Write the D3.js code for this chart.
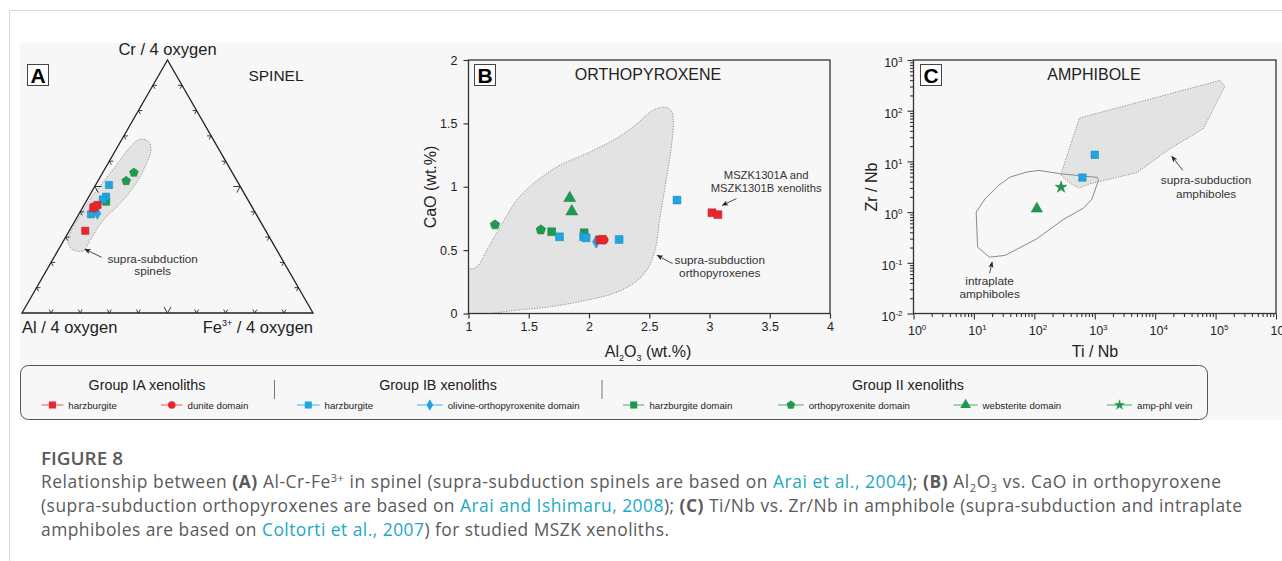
<!DOCTYPE html>
<html><head><meta charset="utf-8">
<script src="https://cdn.jsdelivr.net/npm/d3@7"></script>
<style>body{margin:0;background:#fff;overflow:hidden}svg{display:block}</style>
</head><body>
<svg id="c" width="1282" height="561"></svg>
<script>
// ---------------- DATA ----------------
// Panel A: spinel compositions [Al, Cr, Fe3+] (fractions, 4 oxygen basis)
const spinel_IA_harz  = [[0.62,0.325,0.055],[0.542,0.42,0.038],[0.527,0.427,0.046],[0.549,0.414,0.037]];
const spinel_IA_dun   = [[0.533,0.423,0.044]];
const spinel_IB_harz  = [[0.448,0.506,0.046],[0.481,0.46,0.059],[0.498,0.449,0.053],[0.568,0.39,0.042]];
const spinel_IB_olopx = [[0.544,0.394,0.062]];
const spinel_II_harz  = [[0.491,0.44,0.069]];
const spinel_II_opx   = [[0.338,0.555,0.107],[0.381,0.522,0.097]];
// supra-subduction spinel field [Cr, Fe3+]
const spinelField = [[0.273,0.023],[0.249,0.052],[0.246,0.088],[0.289,0.090],[0.368,0.096],[0.434,0.121],[0.499,0.134],[0.565,0.135],[0.644,0.121],[0.677,0.097],[0.687,0.063],[0.657,0.044],[0.605,0.035],[0.552,0.027],[0.486,0.014],[0.407,0.008],[0.341,0.007],[0.302,0.009]];
const ternaryTicks = [0.1,0.2,0.3,0.4,0.5,0.6,0.7,0.8,0.9];

// Panel B: orthopyroxene [Al2O3 wt%, CaO wt%]
const opx_IA_harz  = [[2.09,0.58],[2.11,0.585],[3.02,0.795],[3.07,0.78]];
const opx_IA_dun   = [[2.125,0.58]];
const opx_IB_harz  = [[1.755,0.605],[1.955,0.605],[1.976,0.597],[2.25,0.584],[2.73,0.895]];
const opx_IB_olopx = [[2.06,0.566]];
const opx_II_harz  = [[1.69,0.645],[1.96,0.637]];
const opx_II_opx   = [[1.22,0.70],[1.60,0.66]];
const opx_II_web   = [[1.84,0.91],[1.857,0.805]];
const opxField = [[0.97,0.33],[1.069,0.368],[1.152,0.5],[1.263,0.684],[1.401,0.895],[1.539,1.026],[1.65,1.105],[1.76,1.171],[1.982,1.263],[2.203,1.368],[2.369,1.474],[2.535,1.605],[2.645,1.626],[2.687,1.592],[2.70,1.50],[2.687,1.342],[2.645,1.079],[2.59,0.763],[2.548,0.5],[2.479,0.342],[2.369,0.237],[2.203,0.158],[1.982,0.105],[1.677,0.053],[1.401,0.026],[1.15,-0.005],[0.97,-0.03]];
const opxXTicks = [1,1.5,2,2.5,3,3.5,4];
const opxYTicks = [0,0.5,1,1.5,2];

// Panel C: amphibole [Ti/Nb, Zr/Nb]
const amph_IB_harz = [[1000,13.5],[625,4.8]];
const amph_II_web  = [[110,1.16]];
const amph_II_amp  = [[277,3.1]];
const amphSupraField = [[274,5.46],[557,71.7],[118500,397],[143300,307],[62800,44.2],[17630,17.8],[4950,5.98],[837,3.62],[537,2.98],[367,3.91]];
const amphIntraField = [[10.9,1.0],[11.5,0.204],[18.1,0.129],[32.8,0.14],[110,0.298],[303,0.717],[650,1.2],[892,1.78],[1150,4.22],[1107,4.83],[274,5.71],[117,6.64],[75,6.16],[39.7,4.91],[25.5,3.36],[15.3,1.83]];
const amphXExp = [0,1,2,3,4,5,6];
const amphYExp = [-2,-1,0,1,2,3];

// Legend
const legendGroups = ["Group IA xenoliths","Group IB xenoliths","Group II xenoliths"];
const legendLabels = ["harzburgite","dunite domain","harzburgite","olivine-orthopyroxenite domain","harzburgite domain","orthopyroxenite domain","websterite domain","amp-phl vein"];

// ---------------- STYLE ----------------
const FONT = "'Liberation Sans', Arial, Helvetica, sans-serif";
const RED="#e8272d", BLUE="#1fa6e1", GREEN="#1e9a50";
const LRED="#f29a9c", LBLUE="#8ed2f2", LGREEN="#8fcea4";

const pentagon = {draw(ctx,size){const r=Math.sqrt(size/2.3776);for(let i=0;i<5;i++){const a=-Math.PI/2+i*2*Math.PI/5;const px=r*Math.cos(a),py=r*Math.sin(a);i?ctx.lineTo(px,py):ctx.moveTo(px,py);}ctx.closePath();}};
const SHAPES = {square:d3.symbolSquare,circle:d3.symbolCircle,diamond:d3.symbolDiamond,triangle:d3.symbolTriangle,star:d3.symbolStar,pentagon:pentagon};
const SIZES = {square:62,circle:55,diamond:48,triangle:62,star:48,pentagon:60};

const series = [
 {shape:"square",  color:RED,  light:LRED,  A:spinel_IA_harz, B:opx_IA_harz, C:[]},
 {shape:"circle",  color:RED,  light:LRED,  A:spinel_IA_dun,  B:opx_IA_dun,  C:[]},
 {shape:"square",  color:BLUE, light:LBLUE, A:spinel_IB_harz, B:opx_IB_harz, C:amph_IB_harz},
 {shape:"diamond", color:BLUE, light:LBLUE, A:spinel_IB_olopx,B:opx_IB_olopx,C:[]},
 {shape:"square",  color:GREEN,light:LGREEN,A:spinel_II_harz, B:opx_II_harz, C:[]},
 {shape:"pentagon",color:GREEN,light:LGREEN,A:spinel_II_opx,  B:opx_II_opx,  C:[]},
 {shape:"triangle",color:GREEN,light:LGREEN,A:[],             B:opx_II_web,  C:amph_II_web},
 {shape:"star",    color:GREEN,light:LGREEN,A:[],             B:[],          C:amph_II_amp}
];
const drawOrder = [4,5,6,7,2,3,0,1];

const svg = d3.select("#c").style("font-family",FONT);
const defs = svg.append("defs");
defs.append("marker").attr("id","arr").attr("viewBox","0 0 8 8").attr("refX",7).attr("refY",4)
  .attr("markerWidth",7).attr("markerHeight",7).attr("orient","auto-start-reverse")
  .append("path").attr("d","M0,0.8 L8,4 L0,7.2 L2,4 Z").attr("fill","#222");

// page chrome
svg.append("line").attr("x1",9.5).attr("y1",10.5).attr("x2",1282).attr("y2",10.5).attr("stroke","#d6d6d6");
svg.append("line").attr("x1",9.5).attr("y1",10.5).attr("x2",9.5).attr("y2",561).attr("stroke","#d6d6d6");
svg.append("rect").attr("x",20).attr("y",43).attr("width",1262).attr("height",377).attr("fill","#f7f7f7");

function sym(shape,size){return d3.symbol().type(SHAPES[shape]).size(size||SIZES[shape])();}
function drawPoints(g, key, fx, fy, scale){
  drawOrder.forEach(i=>{
    const s=series[i];
    g.selectAll(null).data(s[key]).join("path")
      .attr("d",sym(s.shape,SIZES[s.shape]*(scale||1)))
      .attr("transform",d=>`translate(${fx(d)},${fy(d)})`)
      .attr("fill",s.color).attr("stroke",d3.color(s.color).darker(0.6)).attr("stroke-width",0.5);
  });
}
function letterBox(x,y,L){
  svg.append("rect").attr("x",x+0.5).attr("y",y+0.5).attr("width",21).attr("height",21).attr("fill","#fff").attr("stroke","#444").attr("stroke-width",1);
  svg.append("text").attr("x",x+11).attr("y",y+19).attr("text-anchor","middle").attr("font-weight","bold").attr("font-size",21).attr("fill","#000").text(L);
}
function label(x,y,t,size,anchor){return svg.append("text").attr("x",x).attr("y",y).attr("font-size",size).attr("text-anchor",anchor||"middle").attr("fill","#222").text(t);}
function arrow(x1,y1,x2,y2){svg.append("line").attr("x1",x1).attr("y1",y1).attr("x2",x2).attr("y2",y2).attr("stroke","#333").attr("stroke-width",0.9).attr("marker-end","url(#arr)");}

// ================= PANEL A =================
const tu = d3.scaleLinear().domain([0,1]).range([22,313]);   // horizontal (Fe + Cr/2)
const tv = d3.scaleLinear().domain([0,1]).range([313,60]);   // Cr
const tx = (cr,fe)=>tu(fe+cr/2), ty=(cr)=>tv(cr);
const gA = svg.append("g");
gA.append("path").datum(spinelField)
  .attr("d",d3.line().x(d=>tx(d[0],d[1])).y(d=>ty(d[0])).curve(d3.curveCatmullRomClosed.alpha(0.5)))
  .attr("fill","#e3e3e3").attr("stroke","#777").attr("stroke-width",0.8).attr("stroke-dasharray","1.2,1.4");
gA.append("path").attr("d",d3.line().x(d=>tx(d[0],d[1])).y(d=>ty(d[0])).curve(d3.curveLinearClosed)([[0,0],[1,0],[0,1]]))
  .attr("fill","none").attr("stroke","#222").attr("stroke-width",1.3);
const edges=[
 {p:t=>[0,t], dirs:[[-0.5,-0.866],[0.5,-0.866]]},
 {p:t=>[t,0], dirs:[[1,0],[0.5,0.866]]},
 {p:t=>[1-t,t], dirs:[[-1,0],[-0.5,0.866]]}
];
edges.forEach(e=>{
  ternaryTicks.forEach(t=>{
    const c=e.p(t), x=tx(c[0],c[1]), y=ty(c[0]), L=(t===0.5?7:4);
    gA.append("path").attr("d",`M${x+e.dirs[0][0]*L},${y+e.dirs[0][1]*L}L${x},${y}L${x+e.dirs[1][0]*L},${y+e.dirs[1][1]*L}`)
      .attr("fill","none").attr("stroke","#222").attr("stroke-width",0.9);
  });
});
drawPoints(gA,"A",d=>tx(d[1],d[2]),d=>ty(d[1]),0.85);
label(tu(0.5),55,"Cr / 4 oxygen",16.5);
label(tu(0),333,"Al / 4 oxygen",16.5,"start");
const feT = svg.append("text").attr("x",tu(1)).attr("y",333).attr("text-anchor","end").attr("font-size",16.5).attr("fill","#222");
feT.append("tspan").text("Fe");
feT.append("tspan").attr("dy",-7).attr("font-size",9).text("3+");
feT.append("tspan").attr("dy",7).text(" / 4 oxygen");
label(276,81,"SPINEL",15.5);
letterBox(27,64,"A");
label(tu(0.449),tv(0.196),"supra-subduction",11.8).attr("fill","#333");
label(tu(0.449),tv(0.150),"spinels",11.8).attr("fill","#333");
arrow(tu(0.274),tv(0.220),tu(0.2165),tv(0.252));

// ================= PANEL B =================
const bx = d3.scaleLinear().domain([1,4]).range([468.5,830]);
const by = d3.scaleLinear().domain([0,2]).range([313.5,60]);
const gB = svg.append("g");
defs.append("clipPath").attr("id","clipB").append("rect").attr("x",bx(1)).attr("y",by(2)).attr("width",bx(4)-bx(1)).attr("height",by(0)-by(2));
gB.append("path").datum(opxField).attr("clip-path","url(#clipB)")
  .attr("d",d3.line().x(d=>bx(d[0])).y(d=>by(d[1])).curve(d3.curveCatmullRomClosed.alpha(0.5)))
  .attr("fill","#e3e3e3").attr("stroke","#777").attr("stroke-width",0.8).attr("stroke-dasharray","1.2,1.4");
gB.append("rect").attr("x",bx(1)).attr("y",by(2)).attr("width",bx(4)-bx(1)).attr("height",by(0)-by(2)).attr("fill","none").attr("stroke","#333").attr("stroke-width",1.3);
const axB = gB.append("g").attr("transform",`translate(0,${by(0)})`).call(d3.axisBottom(bx).tickValues(opxXTicks).tickSize(5).tickPadding(4).tickFormat(d3.format("~g")));
const ayB = gB.append("g").attr("transform",`translate(${bx(1)},0)`).call(d3.axisLeft(by).tickValues(opxYTicks).tickSize(5).tickPadding(6).tickFormat(d3.format("~g")));
[axB,ayB].forEach(a=>{a.select(".domain").remove();a.selectAll(".tick line").attr("stroke","#333").attr("stroke-width",1.2);a.selectAll(".tick text").attr("font-size",12.5).attr("fill","#222").attr("font-family",FONT);});
drawPoints(gB,"B",d=>bx(d[0]),d=>by(d[1]),1);
label(648,80,"ORTHOPYROXENE",16);
letterBox(474,64,"B");
svg.append("text").attr("transform","translate(436,187) rotate(-90)").attr("text-anchor","middle").attr("font-size",16).attr("fill","#222").text("CaO (wt.%)");
const xLB = svg.append("text").attr("x",648).attr("y",357).attr("text-anchor","middle").attr("font-size",16).attr("fill","#222");
xLB.append("tspan").text("Al");xLB.append("tspan").attr("dy",4).attr("font-size",9).text("2");
xLB.append("tspan").attr("dy",-4).text("O");xLB.append("tspan").attr("dy",4).attr("font-size",9).text("3");
xLB.append("tspan").attr("dy",-4).text(" (wt.%)");
label(bx(3.47),by(1.065),"MSZK1301A and",11.2).attr("fill","#333");
label(bx(3.47),by(0.959),"MSZK1301B xenoliths",11.2).attr("fill","#333");
arrow(bx(3.224),by(0.907),bx(3.108),by(0.854));
label(bx(3.085),by(0.393),"supra-subduction",11.8).attr("fill","#333");
label(bx(3.085),by(0.287),"orthopyroxenes",11.8).attr("fill","#333");
arrow(bx(2.694),by(0.393),bx(2.567),by(0.458));

// ================= PANEL C =================
const cx = d3.scaleLog().domain([1,1e6]).range([913.5,1276]);
const cy = d3.scaleLog().domain([1e-2,1e3]).range([313.5,60]);
const gC = svg.append("g");
gC.append("path").datum(amphSupraField)
  .attr("d",d3.line().x(d=>cx(d[0])).y(d=>cy(d[1])).curve(d3.curveLinearClosed))
  .attr("fill","#e3e3e3").attr("stroke","#777").attr("stroke-width",0.8).attr("stroke-dasharray","1.2,1.4");
gC.append("path").datum(amphIntraField)
  .attr("d",d3.line().x(d=>cx(d[0])).y(d=>cy(d[1])).curve(d3.curveLinearClosed))
  .attr("fill","none").attr("stroke","#8a8a8a").attr("stroke-width",1);
gC.append("rect").attr("x",cx(1)).attr("y",cy(1e3)).attr("width",cx(1e6)-cx(1)).attr("height",cy(1e-2)-cy(1e3)).attr("fill","none").attr("stroke","#333").attr("stroke-width",1.3);
const minorX=[],minorY=[];
amphXExp.slice(0,-1).forEach(e=>{for(let k=2;k<10;k++)minorX.push(k*Math.pow(10,e));});
amphYExp.slice(0,-1).forEach(e=>{for(let k=2;k<10;k++)minorY.push(k*Math.pow(10,e));});
const styleAx=a=>{a.select(".domain").remove();a.selectAll(".tick line").attr("stroke","#333").attr("stroke-width",1.1);};
styleAx(gC.append("g").attr("transform",`translate(0,${cy(1e-2)})`).call(d3.axisBottom(cx).tickValues(minorX).tickSize(3.5).tickFormat("")));
styleAx(gC.append("g").attr("transform",`translate(${cx(1)},0)`).call(d3.axisLeft(cy).tickValues(minorY).tickSize(3.5).tickFormat("")));
const axC=gC.append("g").attr("transform",`translate(0,${cy(1e-2)})`).call(d3.axisBottom(cx).tickValues(amphXExp.map(e=>Math.pow(10,e))).tickSize(6).tickPadding(7).tickFormat(""));
const ayC=gC.append("g").attr("transform",`translate(${cx(1)},0)`).call(d3.axisLeft(cy).tickValues(amphYExp.map(e=>Math.pow(10,e))).tickSize(6).tickPadding(5).tickFormat(""));
styleAx(axC);styleAx(ayC);
function powLabel(sel,exps){
  sel.selectAll(".tick text").each(function(d,i){
    const t=d3.select(this).attr("font-size",12.5).attr("fill","#222").attr("font-family",FONT);
    t.append("tspan").text("10");
    t.append("tspan").attr("dy",-5).attr("font-size",8).text(String(exps[i]));
  });
}
powLabel(axC,amphXExp);powLabel(ayC,amphYExp);
ayC.selectAll(".tick text").attr("dy","0.55em");
axC.selectAll(".tick text").attr("dx","0.25em");
drawPoints(gC,"C",d=>cx(d[0]),d=>cy(d[1]),0.9);
label(1094,80,"AMPHIBOLE",16);
letterBox(920,64,"C");
svg.append("text").attr("transform","translate(877,187) rotate(-90)").attr("text-anchor","middle").attr("font-size",16).attr("fill","#222").text("Zr / Nb");
label(1095,357,"Ti / Nb",16);
label(cx(18.2),cy(0.0368),"intraplate",11.8).attr("fill","#333");
label(cx(18.2),cy(0.0200),"amphiboles",11.8).attr("fill","#333");
arrow(cx(18.2),cy(0.0624),cx(20),cy(0.103));
label(cx(69700),cy(3.52),"supra-subduction",11.8).attr("fill","#333");
label(cx(69700),cy(1.90),"amphiboles",11.8).attr("fill","#333");
arrow(cx(28700),cy(6.64),cx(18900),cy(12.5));

// ================= LEGEND =================
const gL = svg.append("g");
gL.append("rect").attr("x",20.5).attr("y",365.5).attr("width",1187).attr("height",54).attr("rx",8).attr("fill","none").attr("stroke","#555").attr("stroke-width",1);
const groupX=[147,438,908];
legendGroups.forEach((t,i)=>gL.append("text").attr("x",groupX[i]).attr("y",390).attr("text-anchor","middle").attr("font-size",14.3).attr("fill","#222").text(t));
[274.5,602].forEach(x=>gL.append("line").attr("x1",x).attr("x2",x).attr("y1",380).attr("y2",399).attr("stroke","#777").attr("stroke-width",1));
const itemX=[[41.5,68.3],[161,187.5],[297,324.6],[417,447.7],[623,649.4],[778,808.7],[953.7,982.6],[1107,1137]];
series.forEach((s,i)=>{
  const [x0,lx]=itemX[i], x1=lx-5, mx=(x0+x1)/2, y=405;
  gL.append("line").attr("x1",x0).attr("x2",x1).attr("y1",y).attr("y2",y).attr("stroke",s.light).attr("stroke-width",1.8);
  gL.append("path").attr("d",sym(s.shape,SIZES[s.shape]*0.8)).attr("transform",`translate(${mx},${y})`).attr("fill",s.color);
  gL.append("text").attr("x",lx).attr("y",408.5).attr("font-size",9.7).attr("fill","#222").text(legendLabels[i]);
});

// ================= CAPTION =================
const CAPF="'Open Sans', 'Noto Sans', sans-serif", GREY="#5a5a5a", LINK="#22a8c6";
svg.append("text").attr("x",41).attr("y",465).attr("font-family",CAPF).attr("font-size",18.5).attr("font-weight",600).attr("fill",GREY).attr("textLength",82).attr("lengthAdjust","spacingAndGlyphs").text("FIGURE 8");
const capLines=[
 {y:488,w:1180,parts:[["Relationship between "],["(A)","b"],[" Al-Cr-Fe"],["3+","sup"],[" in spinel (supra-subduction spinels are based on "],["Arai et al., 2004","a"],["); "],["(B)","b"],[" Al"],["2","sub"],["O"],["3","sub"],[" vs. CaO in orthopyroxene"]]},
 {y:512,w:1201,parts:[["(supra-subduction orthopyroxenes are based on "],["Arai and Ishimaru, 2008","a"],["); "],["(C)","b"],[" Ti/Nb vs. Zr/Nb in amphibole (supra-subduction and intraplate"]]},
 {y:536,w:628,parts:[["amphiboles are based on "],["Coltorti et al., 2007","a"],[") for studied MSZK xenoliths."]]}
];
capLines.forEach(L=>{
  const t=svg.append("text").attr("x",41).attr("y",L.y).attr("font-family",CAPF).attr("font-size",17.4).attr("fill",GREY).attr("textLength",L.w).attr("lengthAdjust","spacing");
  let shift=0;
  L.parts.forEach(([s,k])=>{
    const sp=t.append("tspan").text(s);
    let target=0;
    if(k==="b")sp.attr("font-weight",700);
    if(k==="a")sp.attr("fill",LINK);
    if(k==="sup"){sp.attr("font-size",11);target=-6;}
    if(k==="sub"){sp.attr("font-size",11);target=4;}
    if(target!==shift){sp.attr("dy",target-shift);shift=target;}
  });
});
</script>
</body></html>
